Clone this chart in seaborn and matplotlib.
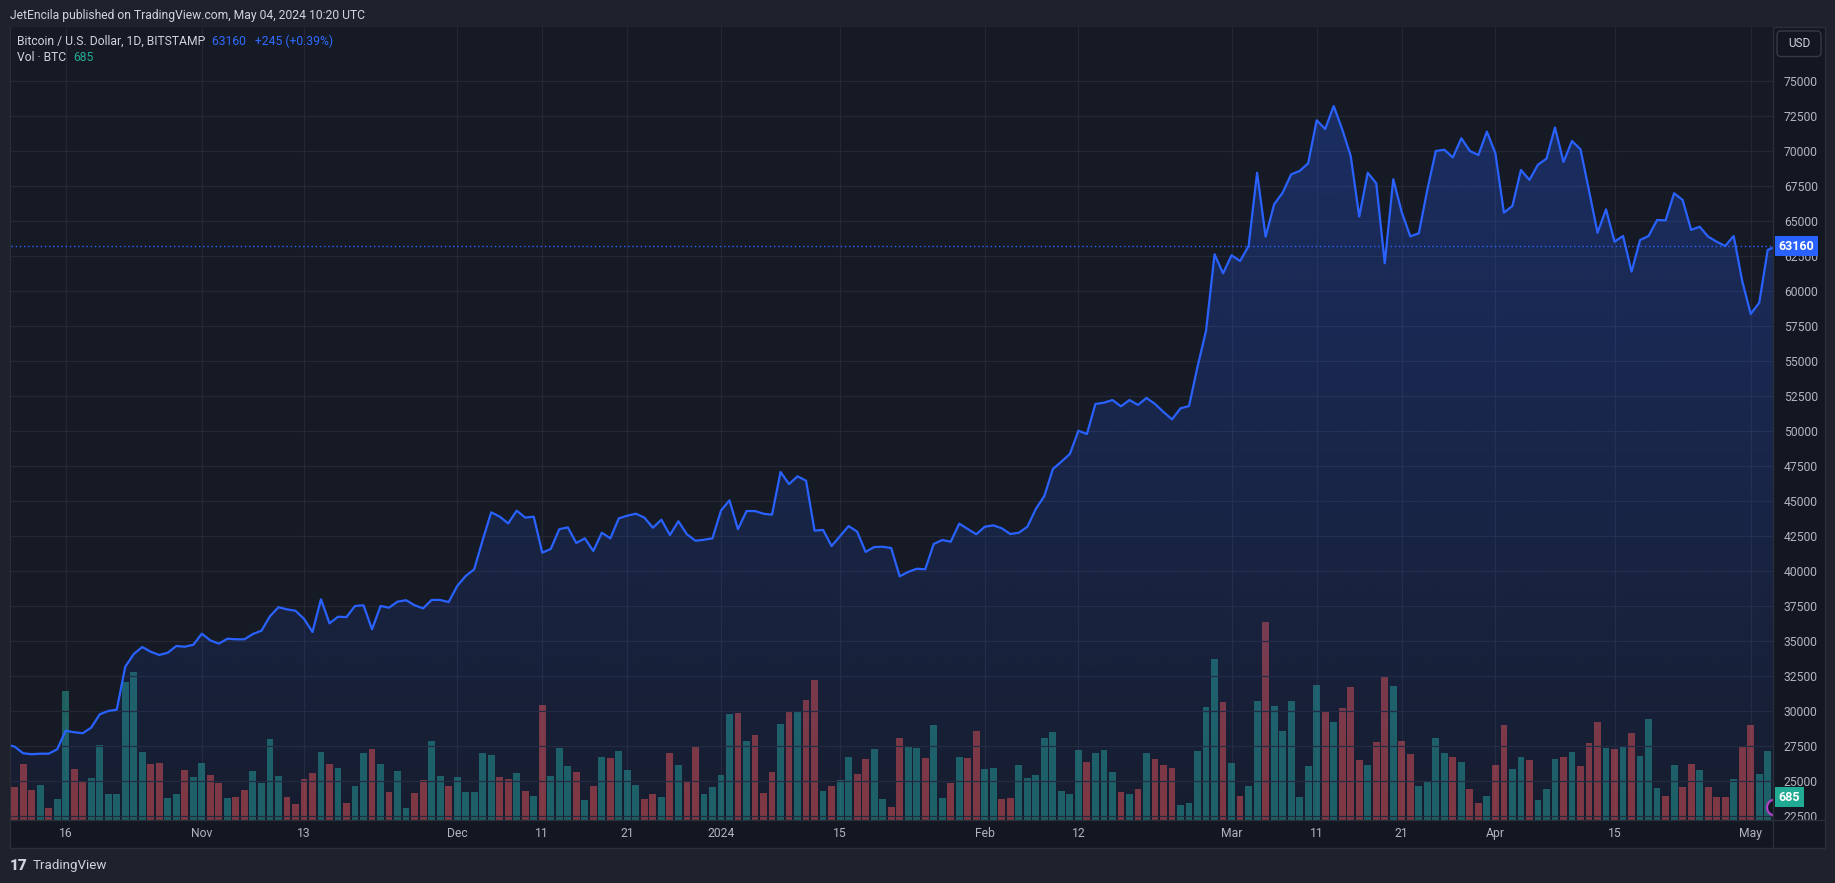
import numpy as np
import pandas as pd
import matplotlib
matplotlib.use("Agg")
import matplotlib.pyplot as plt
import matplotlib.dates as mdates
from matplotlib.patches import Rectangle, FancyBboxPatch, Circle
from matplotlib.lines import Line2D
from matplotlib.transforms import IdentityTransform, blended_transform_factory
import seaborn as sns

# ---------------- data ----------------
# daily close, BTC/USD Bitstamp, 2023-10-09 .. 2024-05-04
close_oct = [27600, 27430, 26960, 26890, 26930, 26930, 27240, 28570, 28460, 28390,
             28790, 29740, 29980, 30070, 33140, 34050, 34550, 34210, 33980, 34140,
             34620, 34570, 34710]
close_nov = [35500, 35020, 34790, 35140, 35100, 35100, 35480, 35710, 36740, 37390,
             37240, 37140, 36570, 35620, 37960, 36240, 36710, 36690, 37480, 37530,
             35810, 37480, 37360, 37790, 37890, 37530, 37310, 37910, 37910, 37760]
close_dec = [38900, 39620, 40100, 42190, 44170, 43860, 43380, 44290, 43790, 43860,
             41290, 41550, 42960, 43100, 41980, 42310, 41410, 42710, 42310, 43740,
             43930, 44070, 43790, 43070, 43640, 42550, 43530, 42600, 42140, 42210,
             42310]
close_jan = [44290, 45030, 42960, 44260, 44260, 44070, 44000, 47050, 46190, 46740,
             46430, 42860, 42910, 41760, 42480, 43190, 42790, 41340, 41690, 41710,
             41620, 39600, 39910, 40140, 40100, 41910, 42190, 42070, 43360, 42980,
             42600]
close_feb = [43140, 43240, 43030, 42620, 42710, 43140, 44410, 45340, 47260, 47790,
             48340, 50000, 49760, 51910, 52000, 52190, 51740, 52190, 51840, 52340,
             51910, 51340, 50810, 51600, 51760, 54570, 57140, 62600, 61240]
close_mar = [62530, 62120, 63190, 68430, 63860, 66170, 67000, 68310, 68550, 69100,
             72170, 71550, 73190, 71530, 69620, 65290, 68430, 67670, 61960, 67960,
             65600, 63880, 64100, 67200, 69980, 70070, 69520, 70890, 69980, 69690,
             71360]
close_apr = [69810, 65570, 66050, 68620, 67910, 69000, 69430, 71660, 69190, 70690,
             70100, 67150, 64140, 65810, 63500, 63910, 61360, 63620, 63910, 65050,
             65020, 66960, 66480, 64340, 64570, 63860, 63500, 63190, 63910, 60700]
close_may = [58340, 59140, 62915, 63160]
close = close_oct + close_nov + close_dec + close_jan + close_feb + close_mar + close_apr + close_may
price_dates = pd.date_range("2023-10-09", periods=len(close), freq="D")

# daily volume (BTC), 2023-10-10 .. 2024-05-04
vol_oct = [990, 1680, 900, 1050, 360, 630, 3870, 1530, 1170, 1260, 2250, 780, 780, 4140,
           4440, 2040, 1680, 1710, 660, 780, 1500, 1290]
vol_nov = [1710, 1350, 1110, 660, 690, 900, 1470, 1110, 2430, 1320, 690, 480, 1230, 1410,
           2040, 1680, 1560, 510, 1020, 2010, 2130, 1680, 840, 1470, 360, 810, 1200, 2370,
           1320, 1020]
vol_dec = [1290, 840, 840, 2010, 1950, 1290, 1230, 1410, 870, 720, 3450, 1320, 2160, 1620,
           1440, 600, 1020, 1890, 1860, 2070, 1500, 1050, 630, 780, 690, 2010, 1650, 1170,
           2220, 780, 990]
vol_jan = [1350, 3180, 3210, 2370, 2550, 810, 1440, 2880, 3270, 3270, 3600, 4200, 870, 1020,
           1200, 1890, 1380, 1830, 2130, 630, 390, 2460, 2220, 2160, 1860, 2850, 660, 1110,
           1890, 1860, 2670]
vol_feb = [1530, 1560, 630, 660, 1650, 1260, 1350, 2460, 2640, 870, 780, 2100, 1740, 2010,
           2100, 1440, 840, 780, 930, 2010, 1830, 1650, 1560, 450, 510, 2070, 3390, 4830, 3540]
vol_mar = [1710, 720, 1020, 3570, 5940, 3420, 2670, 3570, 690, 1620, 4050, 3270, 2940, 3360,
           3990, 1800, 1650, 2340, 4290, 4020, 2370, 1980, 1020, 1140, 2460, 2010, 1890, 1740,
           930, 510, 720]
vol_apr = [1650, 2850, 1530, 1890, 1800, 600, 930, 1830, 1890, 2040, 1620, 2310, 2940, 2160,
           2130, 2190, 2610, 1920, 3030, 960, 720, 1650, 990, 1680, 1500, 990, 690, 690, 1230,
           2220]
vol_may = [2850, 1380, 2070, 685]
volume = vol_oct + vol_nov + vol_dec + vol_jan + vol_feb + vol_mar + vol_apr + vol_may
# 1 = up day (teal bar), 0 = down day (red bar)
vol_up = ("0001011001111111001101"
          "100100111100001010110101100110"
          "1111100101011101010111001010011"
          "1101000101001011001100110110100"
          "11001111111101110101000111110"
          "1011011111101000100100111101001"
          "001101110100010101110100100010"
          "0111")
vol_dates = pd.date_range("2023-10-10", periods=len(volume), freq="D")

tick_dates = ["2023-10-16", "2023-11-01", "2023-11-13", "2023-12-01", "2023-12-11",
              "2023-12-21", "2024-01-01", "2024-01-15", "2024-02-01", "2024-02-12",
              "2024-03-01", "2024-03-11", "2024-03-21", "2024-04-01", "2024-04-15",
              "2024-05-01"]
tick_labels = ["16", "Nov", "13", "Dec", "11", "21", "2024", "15", "Feb", "12",
               "Mar", "11", "21", "Apr", "15", "May"]
price_levels = list(range(22500, 75001, 2500))

# ---------------- style ----------------
sns.set_style("dark")
plt.rcParams["font.family"] = ["Roboto", "DejaVu Sans"]

BG_OUT = "#1e222d"
BG_PANE = "#131722"
BG_PLOT = "#161a25"
GRID = "#242835"
TXT = "#b2b5be"
BLUE = "#2962ff"
TEAL = "#22ab94"

W, H = 1835, 883
P = IdentityTransform()

fig = plt.figure(figsize=(W / 100, H / 100), dpi=100, facecolor=BG_OUT)

# chart pane (plot + scales)
fig.patches.append(Rectangle((9.5, H - 848), 1825 - 9.5, 848 - 27, transform=P,
                             facecolor=BG_PANE, edgecolor="#2a2e39", lw=1, zorder=-10))

L, R, T, B = 10.7, 1772.7, 27.3, 820
axv = fig.add_axes([L / W, 1 - B / H, (R - L) / W, (B - T) / H])
axv.set_facecolor(BG_PLOT)
ax = axv.twinx()

# volume bars
bar_colors = ["#26a69a" if f == "1" else "#ef5350" for f in vol_up]
axv.bar(vol_dates, volume, width=0.8, color=bar_colors, alpha=0.5, linewidth=0, zorder=2)

# price area with gradient fill
xnum = mdates.date2num(price_dates)
ymin, ymax = 22193, 78814
poly = ax.fill_between(xnum, close, ymin, facecolor="none", edgecolor="none")
grad = np.zeros((256, 1, 4))
grad[:, 0, :3] = matplotlib.colors.to_rgb(BLUE)
grad[:, 0, 3] = np.linspace(0.05, 0.28, 256)
im = ax.imshow(grad, extent=[xnum[0], xnum[-1], ymin, max(close)], origin="lower",
               aspect="auto", zorder=1, interpolation="bilinear")
im.set_clip_path(poly.get_paths()[0], transform=ax.transData)

sns.lineplot(x=xnum, y=close, ax=ax, color=BLUE, linewidth=1.6, zorder=3)
ax.axhline(close[-1], color=BLUE, lw=1, ls=(0, (1, 2)), zorder=3)

# limits
x0 = mdates.date2num(pd.Timestamp("2023-10-10")) - 0.46
x1 = mdates.date2num(pd.Timestamp("2024-05-01")) + 2.585
axv.set_xlim(x0, x1)
ax.set_xlim(x0, x1)
ax.set_ylim(ymin, ymax)
axv.set_ylim(0, (B - T) * 30)

# axes / ticks
axv.set_xticks(mdates.date2num(pd.to_datetime(tick_dates)))
axv.set_xticklabels(tick_labels)
axv.set_yticks([])
axv.tick_params(axis="x", length=0, pad=5, labelcolor=TXT, labelsize=8.7)
axv.grid(axis="x", color=GRID, lw=0.9)
axv.grid(axis="y", visible=False)
ax.set_yticks(price_levels)
ax.set_yticklabels([str(v) for v in price_levels])
ax.tick_params(axis="y", length=0, pad=8, labelcolor=TXT, labelsize=8.7)
ax.grid(axis="y", color=GRID, lw=0.9, zorder=0)
ax.grid(axis="x", visible=False)
ax.set_xlabel("")
ax.set_ylabel("")
axv.set_ylabel("")
for a in (ax, axv):
    for s in a.spines.values():
        s.set_visible(False)

# scale separators
fig.lines.append(Line2D([L, 1825], [H - B, H - B], transform=P, color="#2a2e39", lw=1))
fig.lines.append(Line2D([R, R], [H - T, H - 848], transform=P, color="#2a2e39", lw=1))

# last price label
blend_p = blended_transform_factory(ax.transAxes, ax.transData)
ax.text(1.0035, close[-1], str(close[-1]), transform=blend_p, ha="left", va="center",
        color="white", fontsize=9, fontweight="bold", zorder=10, clip_on=False,
        bbox=dict(boxstyle="square,pad=0.28", fc=BLUE, ec="none"))

# marker ring at the right edge (clipped by the plot area) and last volume label
ring = Circle((1775, H - 807.5), 8, transform=P, facecolor=BG_PANE,
              edgecolor="#b042c8", lw=1.6, zorder=8)
ax.add_artist(ring)
ring.set_clip_box(ax.bbox)
blend_v = blended_transform_factory(axv.transAxes, axv.transData)
axv.text(1.0035, volume[-1], str(volume[-1]), transform=blend_v, ha="left", va="center",
         color="white", fontsize=9, fontweight="bold", zorder=10, clip_on=False,
         bbox=dict(boxstyle="square,pad=0.28", fc=TEAL, ec="none"))

# USD box
fig.patches.append(FancyBboxPatch((1777, H - 56.5), 44, 25.5, transform=P,
                                  boxstyle="round,pad=0,rounding_size=4",
                                  fc=BG_PANE, ec="#363a45", lw=1, zorder=5))
fig.text(1799, H - 43.5, "USD", transform=P, ha="center", va="center",
         color="#d1d4dc", fontsize=8.5, zorder=6)

# header / legend texts
fig.text(10, H - 15, "JetEncila published on TradingView.com, May 04, 2024 10:20 UTC",
         transform=P, ha="left", va="center", color="#d1d4dc", fontsize=8.7)
chg = close[-1] - close[-2]
pct = chg / close[-2] * 100
fig.text(17, H - 41.5, "Bitcoin / U.S. Dollar, 1D, BITSTAMP", transform=P,
         ha="left", va="center", color="#d1d4dc", fontsize=8.7, zorder=6)
fig.text(212, H - 41.5, f"{close[-1]}   {chg:+d} ({pct:+.2f}%)", transform=P,
         ha="left", va="center", color="#2f6bff", fontsize=8.7, zorder=6)
fig.text(17, H - 57.5, "Vol \u00b7 BTC", transform=P, ha="left", va="center",
         color="#d1d4dc", fontsize=8.7, zorder=6)
fig.text(73, H - 57.5, str(volume[-1]), transform=P, ha="left", va="center",
         color=TEAL, fontsize=8.7, zorder=6)

# footer logo
fig.text(10, H - 866, "17", transform=P, ha="left", va="center", color="#d1d4dc",
         fontsize=11, fontweight="heavy")
fig.text(33, H - 866, "TradingView", transform=P, ha="left", va="center",
         color="#d1d4dc", fontsize=9.6)

fig.savefig("out.png", dpi=100, facecolor=BG_OUT)
